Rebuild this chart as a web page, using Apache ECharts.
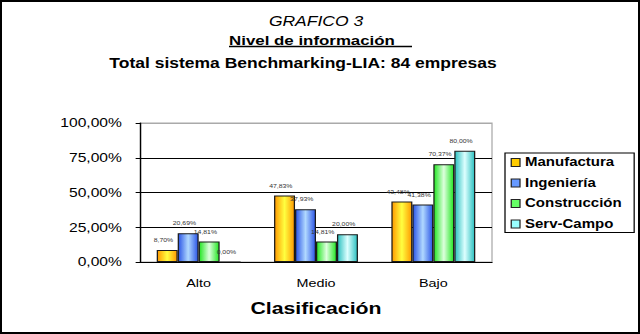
<!DOCTYPE html>
<html><head><meta charset="utf-8">
<script src="https://cdn.jsdelivr.net/npm/echarts@6/dist/echarts.min.js"></script>
<style>
html,body{margin:0;padding:0;background:#fff;overflow:hidden}
#wrap{position:relative;width:640px;height:334px;overflow:hidden}
#c{position:absolute;left:0;top:0;width:512px;height:334px;transform:scaleX(1.25);transform-origin:0 0}
#frame{position:absolute;left:0;top:0;width:636px;height:330px;border:2px solid #000;pointer-events:none}
</style>
</head><body><div id="wrap"><div id="c"></div><div id="frame"></div></div>
<script>
const categories = ['Alto', 'Medio', 'Bajo'];
const seriesNames = ['Manufactura', 'Ingeniería', 'Construcción', 'Serv-Campo'];
const manufactura = [8.70, 47.83, 43.48];
const ingenieria = [20.69, 37.93, 41.38];
const construccion = [14.81, 14.81, 70.37];
const servCampo = [0.00, 20.00, 80.00];
const yTicks = [0, 25, 50, 75, 100];

const values = [manufactura, ingenieria, construccion, servCampo];
const edge = ['#FF9900', '#2B55E6', '#22E622', '#2BC0C0'];
const mid = ['#FFFF40', '#B0D8FF', '#DDFFDD', '#DDFFFF'];
const legendCol = ['#FFCC00', '#6699FF', '#66FF66', '#99FFFF'];
const fmt = v => v.toFixed(2).replace('.', ',') + '%';
const FF = 'Liberation Sans, Arial, sans-serif';

const chart = echarts.init(document.getElementById('c'), null, {renderer: 'svg'});
chart.setOption({
  animation: false,
  textStyle: {fontFamily: FF},
  grid: {left: 112, right: 118.4, top: 123, bottom: 72, show: true, borderColor: '#aaa', borderWidth: 1},
  legend: {
    orient: 'vertical', left: 404, top: 153, itemWidth: 7, itemHeight: 8, itemGap: 8.5,
    borderColor: '#000', borderWidth: 1, padding: [3.5, 10, 2.5, 4.5],
    textStyle: {fontSize: 12, fontWeight: 'bold', color: '#000', fontFamily: FF, padding: [0, 0, 0, -1]},
    data: seriesNames.map((n, i) => ({name: n, icon: 'rect', itemStyle: {color: legendCol[i], borderColor: '#222', borderWidth: 1}}))
  },
  xAxis: {
    type: 'category', data: categories,
    axisLine: {lineStyle: {color: '#000', width: 1}}, axisTick: {show: false},
    axisLabel: {fontSize: 11.5, color: '#000', margin: 15},
    name: 'Clasificación', nameLocation: 'middle', nameGap: 37.5,
    nameTextStyle: {fontSize: 17, fontWeight: 'bold', color: '#000'}
  },
  yAxis: {
    type: 'value', min: yTicks[0], max: yTicks[yTicks.length - 1], interval: 25,
    axisLine: {show: true, lineStyle: {color: '#000'}},
    axisTick: {show: true, length: 3.5, lineStyle: {color: '#000'}},
    axisLabel: {fontSize: 12.5, color: '#000', margin: 14.5, formatter: v => fmt(v)},
    splitLine: {lineStyle: {color: ['#000', '#000', '#000', '#000', '#aaa'], width: 1}}
  },
  series: seriesNames.map((n, i) => ({
    name: n, type: 'bar', data: values[i], barGap: '0%', barCategoryGap: '28.5%',
    itemStyle: {
      color: new echarts.graphic.LinearGradient(0, 0, 1, 0, [
        {offset: 0, color: edge[i]}, {offset: 0.5, color: mid[i]}, {offset: 1, color: edge[i]}]),
      borderColor: '#1a1a1a', borderWidth: 1
    },
    label: {show: true, position: 'top', distance: 7, offset: [-3, 0], fontSize: 5.5, color: '#333', formatter: p => fmt(p.value)}
  })),
  graphic: [
    {type: 'text', x: 252.8, y: 21, style: {text: 'GRAFICO 3', fontSize: 14, fontStyle: 'italic', fontFamily: FF, fill: '#000', textAlign: 'center', textVerticalAlign: 'middle'}},
    {type: 'text', x: 249.6, y: 40, style: {text: 'Nivel de información', fontSize: 13.5, fontWeight: 'bold', fontFamily: FF, fill: '#000', textAlign: 'center', textVerticalAlign: 'middle'}},
    {type: 'line', shape: {x1: 183.2, y1: 46.5, x2: 329.6, y2: 46.5}, style: {stroke: '#000', lineWidth: 1.3}},
    {type: 'text', x: 242.4, y: 63, style: {text: 'Total sistema Benchmarking-LIA: 84 empresas', fontSize: 14, fontWeight: 'bold', fontFamily: FF, fill: '#000', textAlign: 'center', textVerticalAlign: 'middle'}}
  ]
});
</script></body></html>
